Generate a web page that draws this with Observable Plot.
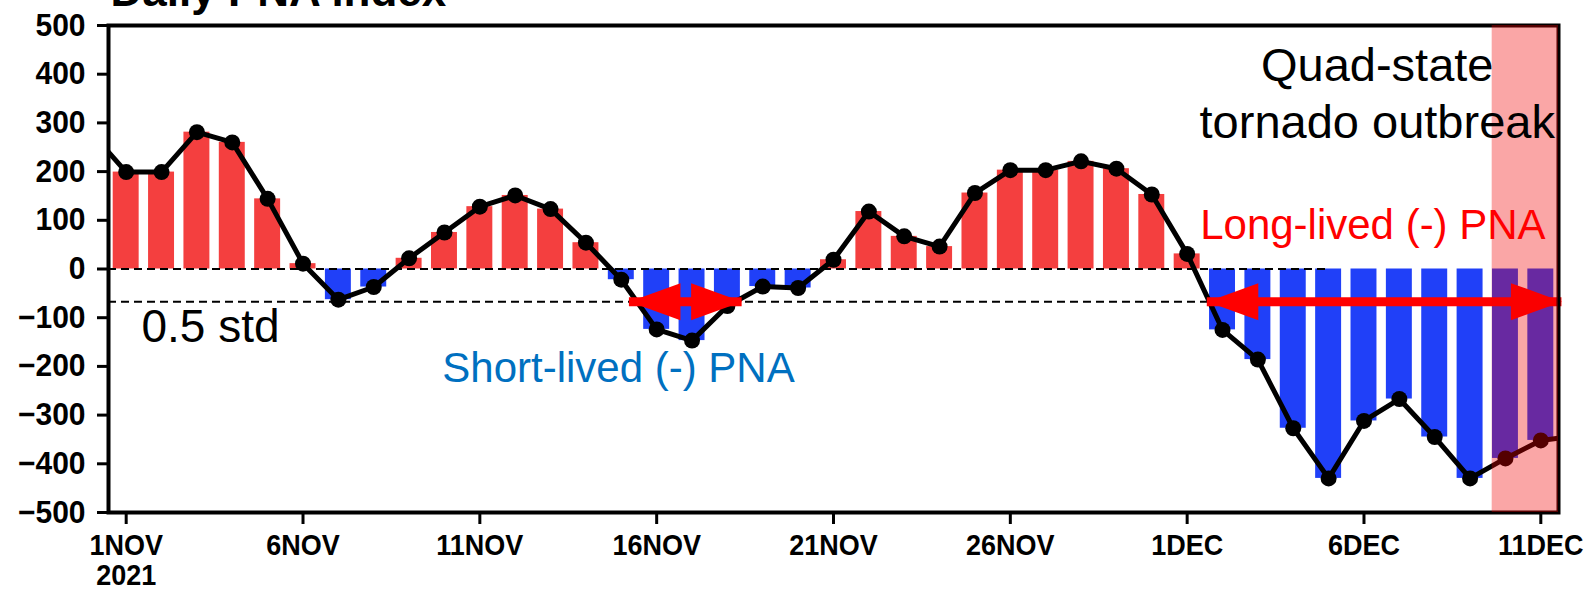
<!DOCTYPE html>
<html>
<head>
<meta charset="utf-8">
<script src="https://cdn.jsdelivr.net/npm/d3@7"></script>
<script src="https://cdn.jsdelivr.net/npm/@observablehq/plot@0.6"></script>
<style>
  html, body { margin: 0; padding: 0; background: #ffffff; }
  #chart { width: 1590px; height: 590px; overflow: hidden; }
</style>
</head>
<body>
<div id="chart"></div>
<script>
// ---- data ----
const firstDay = "2021-10-31";
const lastDay = "2021-12-12";
// Daily PNA index values (one per day, Oct 31 .. Dec 12)
const pna = [281, 199, 199, 281, 260, 144, 11, -63, -37, 22, 75, 128, 151, 123, 54,
  -22, -124, -147, -76, -36, -39, 19, 118, 67, 46, 156, 203, 203, 221, 206, 153,
  31, -125, -186, -327, -430, -312, -267, -345, -430, -389, -352, -343];
const xTickDates = ["2021-11-01", "2021-11-06", "2021-11-11", "2021-11-16", "2021-11-21",
  "2021-11-26", "2021-12-01", "2021-12-06", "2021-12-11"];
const xTickLabels = ["1NOV\n2021", "6NOV", "11NOV", "16NOV", "21NOV", "26NOV", "1DEC", "6DEC", "11DEC"];
const yTicks = [500, 400, 300, 200, 100, 0, -100, -200, -300, -400, -500];
const stdLevel = -67;            // 0.5 std threshold
const arrowStarts = ["2021-11-15T05:30Z", "2021-12-01T13:40Z"];
const arrowEnds = ["2021-11-18T10:00Z", "2021-12-11T14:20Z"];
const outbreakStart = "2021-12-09T15:00Z";
const zeroLineEnd = "2021-12-04T23:00Z";
const xDomain = ["2021-10-31T12:00Z", "2021-12-11T12:00Z"];

// ---- build table ----
const DAY = 864e5;
const dates = d3.utcDay.range(new Date(firstDay), d3.utcDay.offset(new Date(lastDay), 1));
const data = dates.map((date, i) => ({date, value: pna[i]}));
const labelMap = new Map(xTickDates.map((d, i) => [+new Date(d), xTickLabels[i]]));
const halfBar = 0.367 * DAY;

const RED = "#F43F3F";
const BLUE = "#2040F8";
const SANS = "Liberation Sans, Arial, Helvetica, sans-serif";

const headLeft = {draw(ctx) { ctx.moveTo(0, 0); ctx.lineTo(51, -18.5); ctx.lineTo(51, 18.5); ctx.closePath(); }};
const headRight = {draw(ctx) { ctx.moveTo(0, 0); ctx.lineTo(-51, -18.5); ctx.lineTo(-51, 18.5); ctx.closePath(); }};
const arrows = arrowStarts.map((s, i) => ({start: new Date(s), end: new Date(arrowEnds[i])}));

const chart = Plot.plot({
  width: 1590,
  height: 590,
  marginLeft: 108,
  marginRight: 32,
  marginTop: 25,
  marginBottom: 78,
  style: {fontFamily: SANS, background: "#ffffff", overflow: "visible"},
  x: {type: "utc", domain: xDomain.map(d => new Date(d)), axis: null},
  y: {domain: [-500, 500], axis: null},
  marks: [
    Plot.rect(data, {
      x1: d => new Date(+d.date - halfBar),
      x2: d => new Date(+d.date + halfBar),
      y1: 0, y2: "value",
      fill: d => d.value >= 0 ? RED : BLUE,
      clip: true
    }),
    Plot.ruleY([0], {x1: new Date(xDomain[0]), x2: new Date(zeroLineEnd), stroke: "black", strokeWidth: 2, strokeDasharray: "8,5"}),
    Plot.ruleY([stdLevel], {stroke: "black", strokeWidth: 2, strokeDasharray: "8,5"}),
    Plot.line(data, {x: "date", y: "value", stroke: "black", strokeWidth: 5, clip: true}),
    Plot.dot(data, {x: "date", y: "value", r: 8, fill: "black", stroke: "none", clip: true}),
    // arrows
    Plot.ruleY(arrows, {x1: "start", x2: "end", y: stdLevel, stroke: "#FF0000", strokeWidth: 9}),
    Plot.dot(arrows, {x: "start", y: stdLevel, symbol: headLeft, fill: "#FF0000", stroke: "none"}),
    Plot.dot(arrows, {x: "end", y: stdLevel, symbol: headRight, fill: "#FF0000", stroke: "none"}),
    // axes + frame
    Plot.axisY({ticks: yTicks, anchor: "left", tickSize: 11, tickPadding: 12, fontSize: 30, fontWeight: "bold", fontFamily: SANS, strokeWidth: 3, label: null}),
    Plot.axisX({ticks: xTickDates.map(d => new Date(d)), tickFormat: d => labelMap.get(+d), anchor: "bottom", tickSize: 12, tickPadding: 9, fontSize: 30, fontWeight: "bold", fontFamily: SANS, lineHeight: 1, strokeWidth: 3, label: null}),
    Plot.frame({stroke: "black", strokeWidth: 4}),
    // outbreak shading
    Plot.rect([outbreakStart], {x1: d => new Date(d), x2: new Date(xDomain[1]), y1: -500, y2: 500, fill: "#F10000", fillOpacity: 0.35}),
    // annotations
    Plot.text(["Daily PNA index"], {frameAnchor: "top-left", dx: 2, dy: -20, lineAnchor: "bottom", textAnchor: "start", fontSize: 44, fontWeight: "bold", fontFamily: SANS, fill: "black"}),
    Plot.text(["0.5 std"], {x: new Date("2021-11-01T10:20Z"), y: -150, textAnchor: "start", lineAnchor: "bottom", fontSize: 46, fontFamily: SANS, fill: "black"}),
    Plot.text(["Short-lived (-) PNA"], {x: new Date("2021-11-09T22:30Z"), y: -233, textAnchor: "start", lineAnchor: "bottom", fontSize: 42, fontFamily: SANS, fill: "#0070C0"}),
    Plot.text(["Long-lived (-) PNA"], {x: new Date("2021-12-01T08:50Z"), y: 61, textAnchor: "start", lineAnchor: "bottom", fontSize: 42, fontFamily: SANS, fill: "#FF0000"}),
    Plot.text(["Quad-state"], {x: new Date("2021-12-06T09:00Z"), y: 387, textAnchor: "middle", lineAnchor: "bottom", fontSize: 47, fontFamily: SANS, fill: "black"}),
    Plot.text(["tornado outbreak"], {x: new Date("2021-12-06T09:00Z"), y: 270, textAnchor: "middle", lineAnchor: "bottom", fontSize: 47, fontFamily: SANS, fill: "black"})
  ]
});
// tick-label font shape: the original uses a narrower face for the date labels
d3.select(chart).selectAll('g[aria-label="x-axis tick label"] text').each(function() {
  const t = this.getAttribute("transform") || "";
  this.setAttribute("transform", t + " scale(0.9,1)");
});
d3.select(chart).selectAll('g[aria-label="y-axis tick label"] text').each(function() {
  const t = this.getAttribute("transform") || "";
  this.setAttribute("transform", t + " scale(1,1.05)");
});
document.getElementById("chart").appendChild(chart);
</script>
</body>
</html>
